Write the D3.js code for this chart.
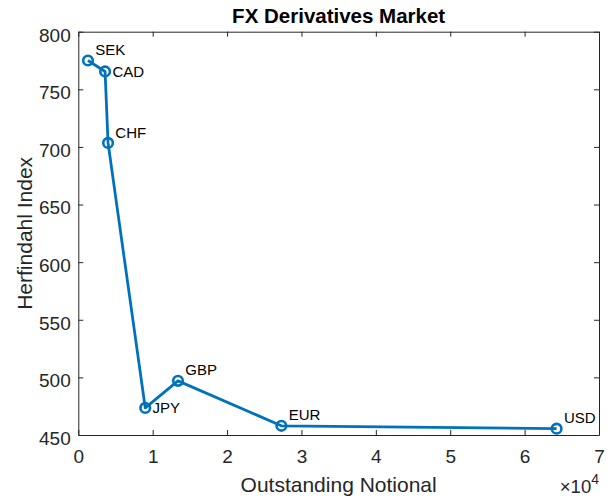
<!DOCTYPE html>
<html>
<head>
<meta charset="utf-8">
<script src="https://cdn.jsdelivr.net/npm/d3@7"></script>
<style>
html,body{margin:0;padding:0;background:#fff;}
svg{display:block;font-family:"Liberation Sans",Arial,Helvetica,sans-serif;}
</style>
</head>
<body>
<svg id="chart" width="610" height="504"></svg>
<script>
// ---- data ----
const currencies = ["SEK","CAD","CHF","JPY","GBP","EUR","USD"];
const notional   = [1300, 3600, 4000, 9000, 13400, 27300, 64300];
const herfindahl = [775, 765.5, 703.5, 473.5, 497, 458, 455.5];
const xTicks = [0,1,2,3,4,5,6,7];          // ×10^4
const yTicks = [450,500,550,600,650,700,750,800];

// label placement style (raised above the marker or level with it)
const labelRaised = [true,false,true,false,true,true,true];

const W = 610, H = 504;
const m = {left:78.3, right:11, top:31.7, bottom:69};
const iw = W - m.left - m.right, ih = H - m.top - m.bottom;
const blue = "#0072BD", axc = "#262626";

const svg = d3.select("#chart");
const x = d3.scaleLinear().domain([0,7e4]).range([m.left, m.left+iw]);
const y = d3.scaleLinear().domain([450,800]).range([m.top+ih, m.top]);

const g = svg.append("g");

// axes with inward ticks
const tl = 5;
const xAxisB = d3.axisBottom(x).tickValues(xTicks.map(d=>d*1e4)).tickFormat(d=>d/1e4).tickSizeInner(-tl).tickSizeOuter(0).tickPadding(15);
const xAxisT = d3.axisTop(x).tickValues(xTicks.map(d=>d*1e4)).tickFormat("").tickSizeInner(-tl).tickSizeOuter(0);
const yAxisL = d3.axisLeft(y).tickValues(yTicks).tickSizeInner(-tl).tickSizeOuter(0).tickPadding(7.6);
const yAxisR = d3.axisRight(y).tickValues(yTicks).tickFormat("").tickSizeInner(-tl).tickSizeOuter(0);

function style(sel){
  sel.selectAll("path").attr("stroke",axc).attr("stroke-width",1);
  sel.selectAll("line").attr("stroke",axc).attr("stroke-width",1);
  sel.selectAll("text").attr("fill",axc).style("font-size","19px").style("font-family","'Liberation Sans',Arial,sans-serif");
}
g.append("g").attr("transform",`translate(0,${m.top+ih})`).call(xAxisB).call(style);
g.append("g").attr("transform",`translate(0,${m.top})`).call(xAxisT).call(style);
const ya = g.append("g").attr("transform",`translate(${m.left},0)`).call(yAxisL).call(style);
ya.selectAll("text").attr("dy","0.49em");
g.append("g").attr("transform",`translate(${m.left+iw},0)`).call(yAxisR).call(style);

// series
const pts = currencies.map((c,i)=>({c, x:notional[i], y:herfindahl[i], raised:labelRaised[i]}));
const line = d3.line().x(d=>x(d.x)).y(d=>y(d.y));
g.append("path").datum(pts).attr("d",line).attr("fill","none").attr("stroke",blue).attr("stroke-width",2.8).attr("stroke-linejoin","round");
g.selectAll("circle.mk").data(pts).enter().append("circle")
  .attr("cx",d=>x(d.x)).attr("cy",d=>y(d.y)).attr("r",4.8)
  .attr("fill","none").attr("stroke",blue).attr("stroke-width",2.6);

g.selectAll("text.lbl").data(pts).enter().append("text")
  .attr("x",d=>x(d.x)+7.3).attr("y",d=>y(d.y)+(d.raised?-10.6:0))
  .attr("dy","0.35em").attr("fill","#000").style("font-size","15px")
  .text(d=>d.c);

// titles
svg.append("text").attr("x",m.left+iw/2).attr("y",23.3).attr("text-anchor","middle")
  .style("font-size","20.5px").style("font-weight","bold").attr("fill","#000").text("FX Derivatives Market");
svg.append("text").attr("x",m.left+iw/2).attr("y",492).attr("text-anchor","middle")
  .style("font-size","21px").attr("fill",axc).text("Outstanding Notional");
svg.append("text").attr("transform",`translate(31.5,${m.top+ih/2}) rotate(-90)`).attr("text-anchor","middle")
  .style("font-size","21px").attr("fill",axc).text("Herfindahl Index");

// exponent
const ex = svg.append("text").attr("x",m.left+iw).attr("y",493).attr("text-anchor","end").attr("fill",axc).style("font-size","18.5px");
ex.append("tspan").text("\u00d710");
ex.append("tspan").attr("dy","-9").style("font-size","14px").text("4");
</script>
</body>
</html>
